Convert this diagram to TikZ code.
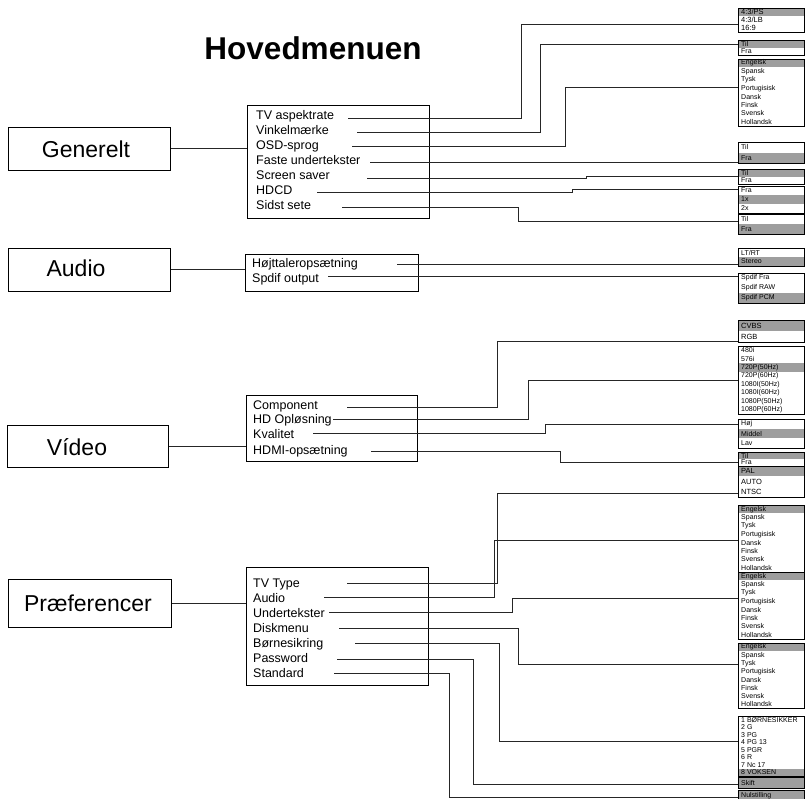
\documentclass[tikz,border=0pt]{standalone}
\usepackage{fontspec}
\setmainfont{Liberation Sans}
\usetikzlibrary{calc}

\colorlet{hl}{black!38}
\tikzset{
  conn/.style={line width=0.9pt, black!85},
  mainbox/.style={draw, line width=1pt},
  subbox/.style={draw, line width=1pt},
  optframe/.style={draw, line width=1pt, minimum width=66pt, inner sep=0pt},
  opt/.style={anchor=west, inner sep=0pt},
  item/.style={anchor=base west, inner sep=0pt, font=\fontsize{12.5}{14}\selectfont},
  mainlbl/.style={font=\fontsize{23}{26}\selectfont},
}

% option box: [font size]{name}{top}{bottom}{rows}{highlighted row}{items}
\newcommand{\optbox}[7][7]{%
  \foreach \txt [count=\i from 0] in {#7} {
    \pgfmathsetmacro\ya{#3+\i*(#4-#3)/#5}
    \pgfmathsetmacro\yb{#3+(\i+1)*(#4-#3)/#5}
    \ifnum\i=#6\relax \fill[hl] (738,\ya) rectangle (804,\yb); \fi
    \node[opt, font=\fontsize{#1}{#1}\selectfont] at (741,{(\ya+\yb)/2}) {\txt};
  }
  \node[optframe, minimum height={#4-#3}, anchor=north west] (#2) at (738,#3) {};
}

\begin{document}
\begin{tikzpicture}[x=1pt, y=-1pt]
  \useasboundingbox (0,0) rectangle (805,798);
  \node[font=\fontsize{31.5}{34}\selectfont\bfseries] (title) at (313,48) {Hovedmenuen};

  % Generelt
  \node[mainbox, minimum width=162pt, minimum height=43pt] (gen) at (89,148.5) {};
  \node[mainlbl] (gen-lbl) at (86,149) {Generelt};
  \node[subbox, minimum width=182pt, minimum height=113pt] (gensub) at (338,161.5) {};
  \node[item] (asp) at (256,119) {TV aspektrate};
  \node[item] (vink) at (256,134) {Vinkelmærke};
  \node[item] (osd) at (256,149) {OSD-sprog};
  \node[item] (faste) at (256,164) {Faste undertekster};
  \node[item] (saver) at (256,179) {Screen saver};
  \node[item] (hdcd) at (256,194) {HDCD};
  \node[item] (sidst) at (256,209) {Sidst sete};
  \coordinate (asp-s) at (348,118);
  \coordinate (vink-s) at (357,132);
  \coordinate (osd-s) at (352,146);
  \coordinate (faste-s) at (370,162);
  \coordinate (saver-s) at (367,178);
  \coordinate (hdcd-s) at (317,192);
  \coordinate (sidst-s) at (342,207);

  \optbox[7.5]{g1}{8}{32}{3}{0}{{4:3/PS},{4:3/LB},{16:9}}
  \optbox{g2}{40}{55}{2}{0}{Til,Fra}
  \optbox{g3}{59}{126}{8}{0}{Engelsk,Spansk,Tysk,Portugisisk,Dansk,Finsk,Svensk,Hollandsk}
  \optbox{g4}{142}{163}{2}{1}{Til,Fra}
  \optbox{g5}{169}{184}{2}{0}{Til,Fra}
  \optbox{g6}{186}{213}{3}{1}{Fra,1x,2x}
  \optbox{g7}{214}{234}{2}{1}{Til,Fra}

  \draw[conn] (gen.east) -- (gen.east -| gensub.west);
  \draw[conn] (asp-s) -- ++(173,0) |- ($(g1.north west)+(0,16)$);
  \draw[conn] (vink-s) -- ++(183,0) |- ($(g2.north west)+(0,4)$);
  \draw[conn] (osd-s) -- ++(213,0) |- ($(g3.north west)+(0,28)$);
  \draw[conn] (faste-s) -- ($(g4.north west)+(0,20)$);
  \draw[conn] (saver-s) -- ++(219,0) |- ($(g5.north west)+(0,7)$);
  \draw[conn] (hdcd-s) -- ++(255,0) |- ($(g6.north west)+(0,3)$);
  \draw[conn] (sidst-s) -- ++(176,0) |- ($(g7.north west)+(0,7)$);

  % Audio
  \node[mainbox, minimum width=162pt, minimum height=43pt] (aud) at (89,269.5) {};
  \node[mainlbl] (aud-lbl) at (76,268) {Audio};
  \node[subbox, minimum width=173pt, minimum height=37pt] (audsub) at (331.5,272.5) {};
  \node[item] (hojt) at (252,267) {Højttaleropsætning};
  \node[item] (spdif) at (252,282) {Spdif output};
  \coordinate (hojt-s) at (397,264);
  \coordinate (spdif-s) at (328,276);

  \optbox[7]{a1}{248}{266}{2}{1}{{LT/RT},Stereo}
  \optbox[7]{a2}{273}{303}{3}{2}{Spdif Fra,Spdif RAW,Spdif PCM}

  \draw[conn] (aud.east) -- (aud.east -| audsub.west);
  \draw[conn] (hojt-s) -- ($(a1.north west)+(0,16)$);
  \draw[conn] (spdif-s) -- ($(a2.north west)+(0,3)$);

  % Video
  \node[mainbox, minimum width=161pt, minimum height=42pt] (vid) at (87.5,446) {};
  \node[mainlbl] (vid-lbl) at (77,447) {Vídeo};
  \node[subbox, minimum width=171pt, minimum height=66pt] (vidsub) at (331.5,428) {};
  \node[item] (comp) at (253,409) {Component};
  \node[item] (hdopl) at (253,423.5) {HD Opløsning};
  \node[item] (kval) at (253,438.5) {Kvalitet};
  \node[item] (hdmi) at (253,454) {HDMI-opsætning};
  \coordinate (comp-s) at (347,407);
  \coordinate (hdopl-s) at (333,419);
  \coordinate (kval-s) at (313,433);
  \coordinate (hdmi-s) at (371,451);

  \optbox[7.5]{v1}{320}{342}{2}{0}{CVBS,RGB}
  \optbox[7]{v2}{346}{414}{8}{2}{480i,576i,720P(50Hz),720P(60Hz),1080I(50Hz),1080I(60Hz),1080P(50Hz),1080P(60Hz)}
  \optbox[7]{v3}{419}{448}{3}{1}{Høj,Middel,Lav}
  \optbox{v4}{452}{466}{2}{0}{Til,Fra}
  \optbox[7.5]{v5}{466}{497}{3}{0}{PAL,AUTO,NTSC}

  \draw[conn] (vid.east) -- (vid.east -| vidsub.west);
  \draw[conn] (comp-s) -- ++(150,0) |- ($(v1.north west)+(0,21)$);
  \draw[conn] (hdopl-s) -- ++(195,0) |- ($(v2.north west)+(0,34)$);
  \draw[conn] (kval-s) -- ++(232,0) |- ($(v3.north west)+(0,5)$);
  \draw[conn] (hdmi-s) -- ++(189,0) |- ($(v4.north west)+(0,10)$);

  % Praeferencer
  \node[mainbox, minimum width=163pt, minimum height=48pt] (pref) at (89.5,603) {};
  \node[mainlbl] (pref-lbl) at (88,603) {Præferencer};
  \node[subbox, minimum width=182pt, minimum height=118pt] (prefsub) at (337,626) {};
  \node[item] (tvtype) at (253,587) {TV Type};
  \node[item] (paudio) at (253,602) {Audio};
  \node[item] (utxt) at (253,617) {Undertekster};
  \node[item] (disk) at (253,632) {Diskmenu};
  \node[item] (born) at (253,647) {Børnesikring};
  \node[item] (pass) at (253,662) {Password};
  \node[item] (std) at (253,677) {Standard};
  \coordinate (tvtype-s) at (347,583);
  \coordinate (paudio-s) at (324,597);
  \coordinate (utxt-s) at (329,612);
  \coordinate (disk-s) at (339,628);
  \coordinate (born-s) at (355,643);
  \coordinate (pass-s) at (337,659);
  \coordinate (std-s) at (334,673);

  \optbox{p1}{505}{572}{8}{0}{Engelsk,Spansk,Tysk,Portugisisk,Dansk,Finsk,Svensk,Hollandsk}
  \optbox{p2}{572}{639}{8}{0}{Engelsk,Spansk,Tysk,Portugisisk,Dansk,Finsk,Svensk,Hollandsk}
  \optbox{p3}{643}{708}{8}{0}{Engelsk,Spansk,Tysk,Portugisisk,Dansk,Finsk,Svensk,Hollandsk}
  \optbox{p4}{716}{776}{8}{7}{1 BØRNESIKKER,2 G,3 PG,4 PG 13,5 PGR,6 R,7 Nc 17,8 VOKSEN}
  \optbox[7]{p5}{777}{788}{1}{0}{Skift}
  \optbox[7]{p6}{790}{802}{1}{0}{Nulstilling}

  \draw[conn] (pref.east) -- (pref.east -| prefsub.west);
  \draw[conn] (tvtype-s) -- ++(150,0) |- ($(v5.north west)+(0,27)$);
  \draw[conn] (paudio-s) -- ++(170,0) |- ($(p1.north west)+(0,35)$);
  \draw[conn] (utxt-s) -- ++(183,0) |- ($(p2.north west)+(0,26)$);
  \draw[conn] (disk-s) -- ++(179,0) |- ($(p3.north west)+(0,21)$);
  \draw[conn] (born-s) -- ++(144,0) |- ($(p4.north west)+(0,25)$);
  \draw[conn] (pass-s) -- ++(136,0) |- ($(p5.north west)+(0,7)$);
  \draw[conn] (std-s) -- ++(115,0) |- ($(p6.north west)+(0,7)$);
\end{tikzpicture}
\end{document}
